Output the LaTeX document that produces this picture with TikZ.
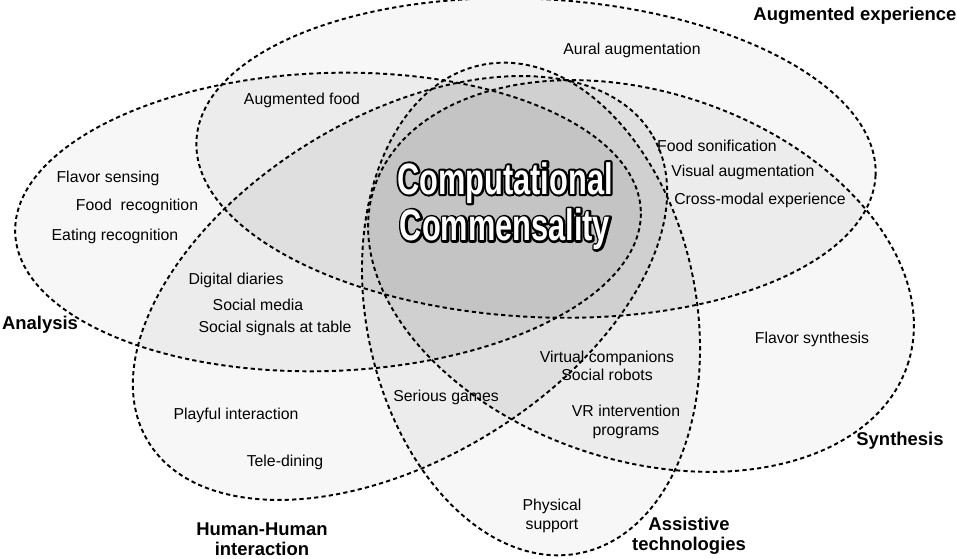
\documentclass[tikz,border=0pt]{standalone}
\usepackage{fontspec}
\setmainfont{Liberation Sans}
\newfontfamily\ccfont{Liberation Sans}[FakeStretch=0.7]
\newcommand\rim[1]{\special{pdf:literal direct 1 Tr 2.4 w 1 j 0 G}#1\special{pdf:literal direct 0 Tr}}

% the five sets
\newcommand\setA{(6.56,6.74) ellipse [x radius=6.26, y radius=2.98, rotate=2]}
\newcommand\setB{(10.72,8.02) ellipse [x radius=6.80, y radius=3.18, rotate=-3]}
\newcommand\setC{(12.82,5.66) ellipse [x radius=5.62, y radius=3.68, rotate=-18.4]}
\newcommand\setD{(8.00,5.42) ellipse [x radius=5.90, y radius=3.42, rotate=31.4]}
\newcommand\setE{(10.62,5.00) ellipse [x radius=3.30, y radius=4.98, rotate=11.3]}

\begin{document}
\begin{tikzpicture}[
		set/.style = {line width=1.1pt, dash pattern=on 2.4pt off 1.8pt},
		entry/.style = {font=\fontsize{9}{10.6}\selectfont, align=center, inner sep=0pt},
		setname/.style = {font=\fontsize{10.5}{11.6}\selectfont\bfseries, align=center, inner sep=0pt},
		bigtext/.style = {inner sep=0pt, align=center, font=\ccfont\bfseries\fontsize{25}{26.5}\selectfont}]
		
		\useasboundingbox (0,0) rectangle (19.14,11.18);
		
		% Shading of the sets
		\foreach \s in {A,B,C,D,E}
			\fill[black, fill opacity=0.031] \csname set\s\endcsname;
		
		% Shading of the overlaps
		\foreach \i/\j in {A/B,A/C,A/D,A/E,B/C,B/D,B/E,C/D,C/E,D/E}{
			\begin{scope}
				\clip \csname set\i\endcsname;
				\fill[black, fill opacity=0.0126] \csname set\j\endcsname;
			\end{scope}
		}
		
		% Sets outline
		\foreach \s in {A,B,C,D,E}
			\draw[set] \csname set\s\endcsname;
		
		% Set names
		\node[setname] (analysis) at (0.80,4.68) {Analysis};
		\node[setname] (augexp) at (17.10,10.86) {Augmented experience};
		\node[setname] (synthesis) at (18.00,2.36) {Synthesis};
		\node[setname] (human) at (5.24,0.40) {Human-Human\\interaction};
		\node[setname] (assist) at (13.78,0.46) {Assistive\\technologies};
		
		% Entries
		\node[entry] (aural) at (12.64,10.18) {Aural augmentation};
		\node[entry] (augfood) at (6.04,9.18) {Augmented food};
		\node[entry] (sonif) at (14.34,8.26) {Food sonification};
		\node[entry] (visual) at (14.86,7.74) {Visual augmentation};
		\node[entry] (crossmod) at (15.20,7.18) {Cross-modal experience};
		\node[entry] (flavsens) at (2.16,7.62) {Flavor sensing};
		\node[entry] (foodrec) at (2.74,7.06) {Food\ \ recognition};
		\node[entry] (eatrec) at (2.30,6.46) {Eating recognition};
		\node[entry] (diaries) at (4.72,5.58) {Digital diaries};
		\node[entry] (socmedia) at (5.16,5.08) {Social media};
		\node[entry] (signals) at (5.50,4.62) {Social signals at table};
		\node[entry] (playful) at (4.72,2.88) {Playful interaction};
		\node[entry] (teledin) at (5.70,1.94) {Tele-dining};
		\node[entry] (serious) at (8.92,3.24) {Serious games};
		\node[entry] (virtual) at (12.14,3.86) {Virtual companions\\Social robots};
		\node[entry] (vrprog) at (12.52,2.74) {VR intervention\\programs};
		\node[entry] (flavsyn) at (16.24,4.40) {Flavor synthesis};
		\node[entry] (physical) at (11.04,0.86) {Physical\\support};
		
		% Centre: black rim, then white letters on top
		\node[bigtext] (ccrim) at (10.10,7.06) {\rim{Computational}\\\rim{Commensality}};
		\node[bigtext, text=white] (cc) at (ccrim) {Computational\\Commensality};
	\end{tikzpicture}
\end{document}
